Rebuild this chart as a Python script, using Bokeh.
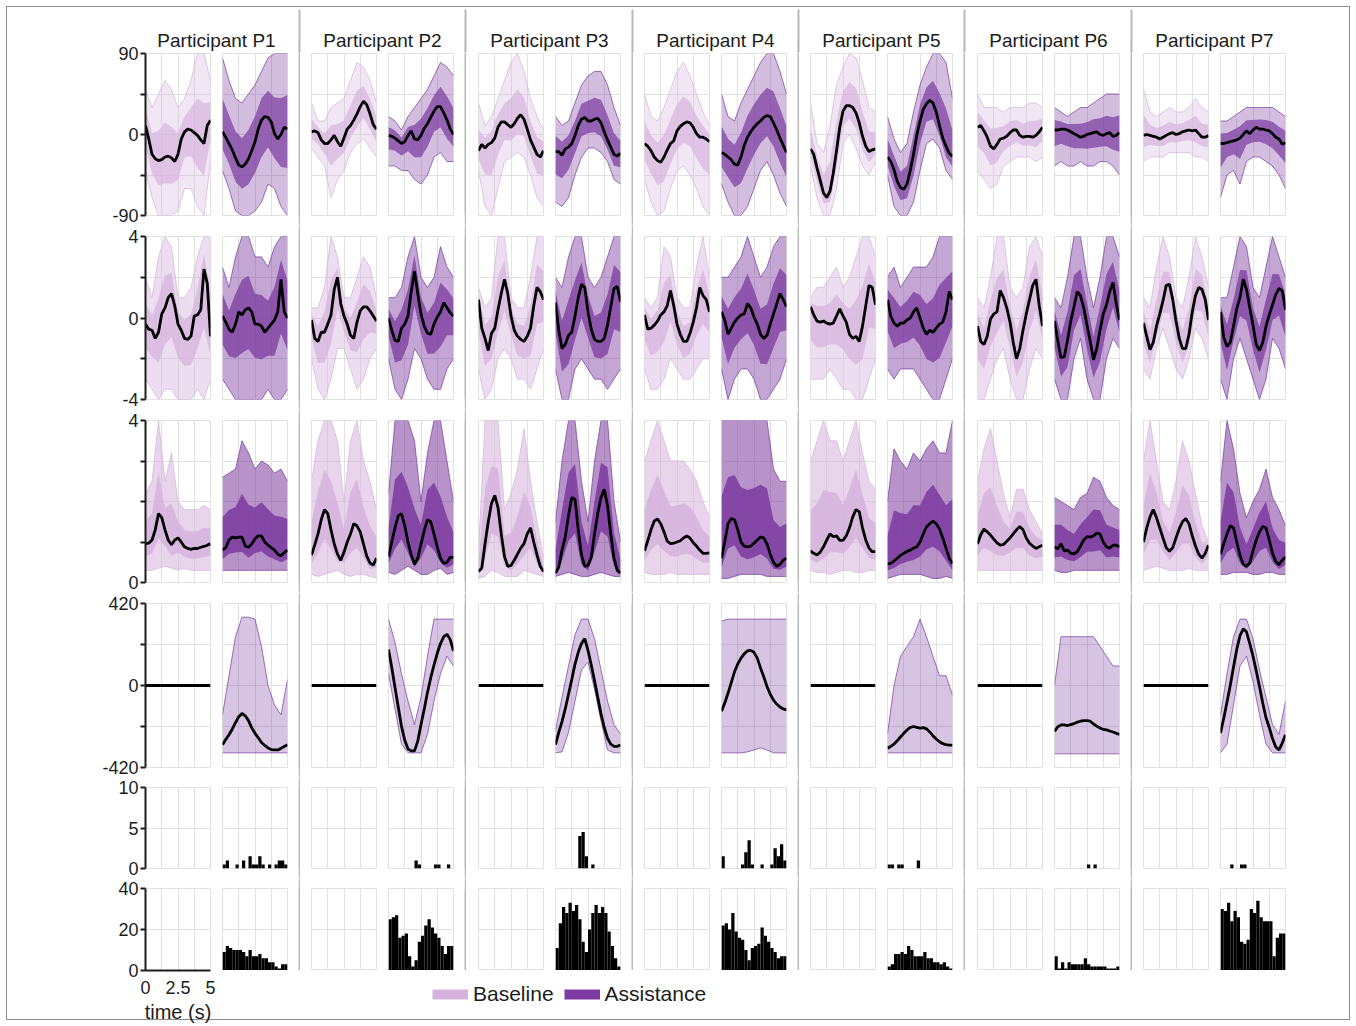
import numpy as np
from math import pi
from bokeh.plotting import figure
from bokeh.models import Range1d, FixedTicker, Grid, Label, Legend, LegendItem
from bokeh.layouts import row, column
from bokeh.embed import file_html
from bokeh.resources import INLINE
from bokeh.core.properties import value

FONT = "Liberation Sans"
TXT = "#1c1c1c"
BASE_C = "#d5b3dd"
ASST_C = "#7b3a9f"
GRID_C = "#e2e2e2"
SEP_C = "#b9b9b9"

participants = ["Participant P1", "Participant P2", "Participant P3", "Participant P4",
                "Participant P5", "Participant P6", "Participant P7"]
conditions = ["Baseline", "Assistance"]

t21 = [0.0, 0.25, 0.5, 0.75, 1.0, 1.25, 1.5, 1.75, 2.0, 2.25, 2.5, 2.75, 3.0, 3.25, 3.5, 3.75, 4.0, 4.25, 4.5, 4.75, 5.0]
t11 = [0.0, 0.5, 1.0, 1.5, 2.0, 2.5, 3.0, 3.5, 4.0, 4.5, 5.0]
bin_left = [0.0, 0.25, 0.5, 0.75, 1.0, 1.25, 1.5, 1.75, 2.0, 2.25, 2.5, 2.75, 3.0, 3.25, 3.5, 3.75, 4.0, 4.25, 4.5, 4.75]
bin_right = [0.25, 0.5, 0.75, 1.0, 1.25, 1.5, 1.75, 2.0, 2.25, 2.5, 2.75, 3.0, 3.25, 3.5, 3.75, 4.0, 4.25, 4.5, 4.75, 5.0]

# ---------------- Error (deg) ----------------
err_base_mean = [
    [10, -5, -22, -27, -29, -28, -25, -24, -26, -30, -22, -5, 3, 6, 5, 2, -1, -6, -10, 10, 16],
    [3, 4, 2, -6, -10, -10, -6, -1, -8, -13, -4, 6, 10, 16, 23, 31, 37, 33, 23, 11, 6],
    [-18, -11, -15, -11, -9, -4, 8, 14, 14, 11, 8, 12, 18, 22, 17, 6, -6, -14, -22, -25, -18],
    [-10, -13, -18, -25, -29, -31, -25, -17, -10, -7, 4, 9, 12, 14, 13, 8, 1, -3, -3, -5, -8],
    [-16, -22, -37, -51, -65, -70, -63, -43, -18, 8, 26, 32, 32, 30, 24, 13, -2, -13, -19, -17, -16],
    [8, 10, 4, -3, -13, -16, -11, -5, -4, -2, 2, 5, 5, -1, -3, -2, -2, -3, -1, 3, 8],
    [-1, 0, -1, -2, -3, -5, -3, -1, 1, 2, 0, 1, 3, 4, 5, 4, 5, 1, -3, -3, -1],
]
err_base_lo = [
    [-40, -70, -90, -90, -90, -85, -60, -60, -80, -90, -30],
    [-15, -25, -35, -70, -50, -40, -20, -10, -5, -15, -25],
    [-40, -80, -90, -60, -30, -25, -20, -25, -45, -70, -80],
    [-50, -75, -90, -85, -60, -40, -35, -45, -60, -80, -90],
    [-35, -70, -90, -90, -60, -10, 0, -15, -35, -45, -30],
    [-40, -50, -60, -55, -35, -30, -25, -25, -25, -30, -25],
    [-30, -25, -25, -25, -20, -20, -20, -20, -25, -25, -30],
]
err_base_hi = [
    [50, 30, 45, 60, 50, 30, 40, 60, 90, 90, 60],
    [35, 15, 15, 30, 35, 40, 60, 80, 75, 60, 35],
    [35, 10, 20, 40, 60, 80, 90, 70, 40, 20, 5],
    [45, 20, 15, 30, 50, 70, 80, 65, 45, 25, 10],
    [35, -10, -20, 10, 55, 75, 90, 85, 60, 30, 25],
    [45, 30, 30, 30, 25, 30, 30, 30, 35, 35, 30],
    [50, 25, 20, 25, 30, 25, 25, 30, 40, 30, 25],
]
err_asst_mean = [
    [3, -3, -10, -17, -26, -34, -36, -33, -27, -18, -8, 6, 16, 20, 19, 14, 1, -5, 0, 8, 6],
    [-1, -2, -4, -7, -10, -8, -1, 4, -5, -6, -1, 7, 12, 19, 26, 31, 31, 24, 16, 6, 0],
    [-19, -19, -23, -16, -14, -10, -1, 10, 17, 19, 15, 15, 17, 18, 13, 3, -6, -14, -22, -24, -21],
    [-20, -22, -25, -28, -33, -34, -25, -12, -3, 3, 8, 12, 15, 19, 21, 20, 13, 5, -4, -12, -20],
    [-25, -30, -39, -52, -59, -61, -55, -40, -22, -1, 15, 28, 34, 38, 35, 25, 10, -4, -13, -21, -24],
    [5, 5, 6, 6, 5, 3, 1, -1, -3, -2, 0, 1, 2, 3, 0, -1, 1, 2, -2, -1, 2],
    [-10, -10, -9, -8, -7, -6, -4, 0, 4, 1, 5, 8, 6, 6, 5, 4, 1, -3, -5, -11, -9],
]
err_asst_lo = [
    [-40, -60, -85, -90, -90, -85, -75, -55, -60, -80, -90],
    [-35, -35, -40, -40, -50, -55, -45, -25, -20, -30, -30],
    [-75, -80, -70, -45, -25, -15, -15, -20, -30, -50, -55],
    [-55, -75, -90, -90, -80, -60, -40, -30, -45, -65, -80],
    [-45, -80, -90, -90, -75, -40, -10, -5, -15, -40, -50],
    [-35, -30, -35, -35, -30, -35, -35, -30, -30, -35, -45],
    [-70, -45, -40, -55, -30, -25, -25, -30, -35, -45, -60],
]
err_asst_hi = [
    [85, 60, 40, 35, 45, 55, 70, 85, 90, 90, 90],
    [20, 15, 5, 20, 30, 40, 50, 65, 80, 75, 65],
    [20, 10, 15, 35, 55, 65, 70, 70, 55, 30, 10],
    [45, 20, 15, 35, 50, 65, 80, 90, 90, 70, 45],
    [20, -5, -20, -10, 25, 55, 75, 90, 90, 80, 40],
    [30, 25, 20, 25, 30, 30, 35, 40, 45, 45, 45],
    [15, 15, 20, 25, 30, 30, 30, 30, 30, 25, 20],
]

# ---------------- Power (W) ----------------
pow_base_mean = [
    [-0.3, -0.55, -0.6, -1.0, -0.7, 0.2, 0.5, 1.0, 1.2, 0.6, -0.3, -0.6, -1.0, -1.05, -0.9, 0.1, 0.15, 0.4, 2.4, 1.7, -0.9],
    [-0.1, -1.0, -1.15, -0.7, -0.7, -0.3, 0.15, 1.4, 2.0, 0.7, 0.1, -0.3, -0.85, -1.0, -0.2, 0.35, 0.55, 0.55, 0.35, 0.1, -0.15],
    [0.9, -0.5, -1.0, -1.6, -0.75, -0.5, 0.4, 1.2, 1.9, 1.2, 0.1, -0.6, -0.9, -1.05, -1.15, -0.9, -0.5, 0.6, 1.5, 1.3, 0.9],
    [0.15, -0.55, -0.5, -0.35, -0.15, 0.15, 0.3, 0.6, 1.35, 0.6, -0.3, -0.8, -1.15, -1.15, -0.75, -0.2, 0.5, 1.5, 1.1, 0.9, 0.3],
    [0.55, 0.15, -0.15, -0.2, -0.15, -0.25, -0.3, -0.25, 0.1, 0.45, 0.1, -0.2, -0.8, -1.0, -0.9, -1.15, -0.4, 0.6, 1.6, 1.5, 0.65],
    [-0.4, -1.15, -1.3, -0.9, -0.05, 0.2, 0.3, 1.35, 1.0, 0.5, -0.2, -1.2, -2.0, -1.5, -0.6, 0.2, 0.9, 1.6, 1.9, 0.6, -0.4],
    [-0.25, -0.9, -1.55, -1.2, -0.4, 0.2, 0.85, 1.6, 1.65, 0.9, -0.15, -1.0, -1.5, -1.5, -0.8, 0.3, 1.1, 1.5, 1.4, 0.9, -0.1],
]
pow_base_lo = [
    [-3, -3.5, -4, -3.5, -3.5, -4, -4, -4, -3.5, -4, -3],
    [-2, -3.5, -4, -3, -1.5, -1.5, -2.5, -3.5, -3, -2, -1.5],
    [-2.5, -4, -3.5, -2, -1.5, -2, -3, -3, -3.5, -2.5, -1.5],
    [-2.5, -3.5, -3.5, -3, -2, -2.5, -3, -3, -2.5, -2, -2],
    [-3, -3, -3, -2.5, -3, -3.5, -3.5, -4, -4, -3, -2],
    [-4, -4, -3, -2, -1.5, -3, -4, -4, -2.5, -1.5, -2],
    [-2.5, -3, -1.5, -0.5, -1.5, -2.5, -3, -2, -0.5, -1, -2],
]
pow_base_hi = [
    [2, 1, 3, 4, 3.5, 1, 1, 1.5, 3, 4, 4],
    [0.5, 0.5, 1.5, 4, 3, 1, 1, 2, 3, 2.5, 1],
    [1.5, 0.5, 1, 4, 4, 1, 0.5, 0.5, 2, 4, 4],
    [1, 0.5, 1, 3.5, 3, 1, 0.5, 0.5, 2.5, 4, 2],
    [1, 1.5, 1.5, 2, 2.5, 1.5, 2, 3, 4, 4, 3],
    [1, 0.5, 2, 4, 4, 1.5, 1, 1.5, 3.5, 4, 3],
    [1, 0.5, 2.5, 4, 3, 1, 0.5, 2, 4, 3, 1.5],
]
pow_asst_mean = [
    [0.1, -0.2, -0.55, -0.7, -0.3, 0.3, 0.15, 0.4, 0.5, 0.3, -0.3, -0.3, -0.4, -0.7, -0.5, -0.3, -0.1, 0.3, 1.9, 0.3, 0],
    [0, -0.6, -1.1, -1.15, -0.5, -0.3, 0.1, 1.3, 2.3, 1.2, 0.2, -0.4, -0.75, -0.8, -0.3, 0.05, 0.3, 0.75, 0.5, 0.25, 0.1],
    [0.75, -0.6, -1.5, -1.3, -0.85, -0.7, 0.1, 1.0, 1.65, 1.5, 0.3, -0.55, -1.05, -1.15, -1.15, -1.0, -0.35, 0.55, 1.45, 1.55, 0.8],
    [0.3, -0.1, -0.8, -0.5, -0.2, 0, 0.15, 0.2, 0.7, 0.5, 0.05, -0.3, -0.8, -1.0, -0.85, -0.3, 0.2, 0.7, 1.2, 0.9, 0.55],
    [0.9, 0.1, -0.25, -0.4, -0.25, -0.25, -0.1, 0, 0.3, 0.5, 0, -0.5, -0.8, -0.6, -0.7, -0.5, -0.3, -0.2, 0.3, 1.3, 0.9],
    [-0.15, -1.1, -1.95, -1.9, -1.1, -0.15, 0.55, 1.3, 1.1, 0.5, -0.35, -1.15, -2.05, -1.5, -0.6, 0.2, 0.65, 1.3, 1.75, 0.7, -0.1],
    [0.3, -0.95, -1.4, -1.2, -0.4, 0.45, 1.0, 1.9, 1.4, 0.5, -0.35, -1.3, -1.6, -1.2, -0.4, 0.15, 0.65, 1.15, 1.45, 1.35, 0.4],
]
pow_asst_lo = [
    [-3, -3.5, -4, -4, -4, -4, -4, -3.5, -4, -4, -3.5],
    [-2, -3.5, -4, -3, -1.5, -2, -3, -3.5, -3.5, -2.5, -2],
    [-2.5, -4, -4, -2.5, -2, -2.5, -3, -3, -3.5, -3, -2.5],
    [-2.5, -4, -3, -2.5, -2.5, -3, -4, -4, -3.5, -3, -2],
    [-2.5, -3, -2.5, -2.5, -2.5, -3, -3.5, -4, -4, -3, -2],
    [-3, -4, -4, -2, -1, -3, -4, -4, -2, -1, -1.5],
    [-3, -4, -2, -1, -2, -3, -4, -3, -1, -1.5, -2.5],
]
pow_asst_hi = [
    [2.5, 1.5, 3, 4, 4, 3, 3, 2.5, 3.5, 4, 4],
    [1, 1, 1.5, 3, 4, 2, 1.5, 2, 3.5, 2.5, 2],
    [2, 1.5, 3, 4, 4, 2, 1.5, 2, 3, 4, 4],
    [2, 2, 2.5, 3, 4, 3, 2, 2.5, 3.5, 4, 4],
    [2, 2.5, 1.5, 2, 2.5, 2.5, 2.5, 3, 4, 4, 4],
    [1, 0.5, 2, 4, 4, 2, 0.5, 2, 4, 4, 3],
    [1, 1, 2.5, 4, 3.5, 1.5, 1, 2.5, 4, 3, 2],
]

# ---------------- Scaled Effort (a.u.) ----------------
eff_base_mean = [
    [0.96, 0.97, 1.05, 1.3, 1.7, 1.6, 1.3, 1.05, 0.93, 1.05, 1.1, 1.0, 0.88, 0.84, 0.82, 0.84, 0.84, 0.87, 0.89, 0.92, 0.96],
    [0.68, 0.93, 1.2, 1.55, 1.8, 1.7, 1.3, 0.95, 0.7, 0.55, 0.75, 1.0, 1.2, 1.45, 1.4, 1.25, 0.95, 0.65, 0.48, 0.43, 0.6],
    [0.27, 0.35, 0.95, 1.5, 1.95, 2.15, 1.85, 1.2, 0.64, 0.4, 0.42, 0.55, 0.7, 0.85, 0.96, 1.2, 1.35, 1.0, 0.68, 0.4, 0.27],
    [0.78, 1.03, 1.3, 1.52, 1.57, 1.45, 1.25, 1.02, 0.96, 0.97, 1.0, 1.03, 1.1, 1.15, 1.1, 0.98, 0.9, 0.8, 0.72, 0.72, 0.73],
    [0.78, 0.72, 0.68, 0.75, 0.88, 1.05, 1.2, 1.13, 1.15, 1.04, 1.04, 1.15, 1.35, 1.62, 1.8, 1.75, 1.35, 1.05, 0.85, 0.76, 0.76],
    [0.95, 1.18, 1.32, 1.25, 1.17, 1.07, 0.98, 0.92, 0.94, 1.02, 1.1, 1.2, 1.3, 1.38, 1.3, 1.1, 0.97, 0.9, 0.84, 0.88, 0.92],
    [1.0, 1.35, 1.62, 1.8, 1.6, 1.35, 1.1, 0.86, 0.77, 0.86, 1.1, 1.33, 1.5, 1.58, 1.45, 1.15, 0.9, 0.7, 0.6, 0.72, 0.92],
]
eff_base_lo = [
    [0.3, 0.3, 0.35, 0.4, 0.35, 0.3, 0.35, 0.3, 0.3, 0.3, 0.3],
    [0.2, 0.15, 0.2, 0.25, 0.3, 0.2, 0.15, 0.2, 0.2, 0.15, 0.1],
    [0.1, 0.15, 0.3, 0.25, 0.15, 0.15, 0.15, 0.3, 0.25, 0.2, 0.15],
    [0.25, 0.2, 0.2, 0.2, 0.25, 0.2, 0.2, 0.2, 0.2, 0.2, 0.2],
    [0.3, 0.25, 0.25, 0.2, 0.25, 0.3, 0.3, 0.25, 0.25, 0.3, 0.3],
    [0.3, 0.3, 0.3, 0.3, 0.3, 0.3, 0.3, 0.3, 0.3, 0.3, 0.3],
    [0.3, 0.35, 0.4, 0.35, 0.3, 0.3, 0.3, 0.35, 0.3, 0.3, 0.3],
]
eff_base_hi = [
    [2.2, 2.5, 4, 2.5, 3.2, 2, 1.8, 1.8, 1.8, 1.9, 1.8],
    [2.5, 3.5, 4, 4, 3.5, 2.0, 3.5, 4, 3, 2.5, 1.8],
    [0.8, 4, 4, 4, 1.8, 2.2, 2.8, 3.8, 2.5, 1.5, 0.6],
    [3, 3.5, 4, 3.5, 3, 3, 3, 2.8, 2.5, 2.0, 1.6],
    [3, 3.5, 4, 3.5, 3.5, 3, 3.5, 4, 3.2, 2.5, 2.3],
    [2.5, 3.3, 3.8, 3.0, 2.2, 1.6, 2.3, 2.3, 1.8, 1.5, 1.2],
    [3, 4, 3, 2, 1.8, 2.5, 3.5, 3, 2.2, 1.4, 1.0],
]
eff_asst_mean = [
    [0.8, 0.86, 1.05, 1.12, 1.1, 1.12, 1.12, 0.9, 0.87, 0.95, 1.08, 1.15, 1.15, 1.0, 0.92, 0.86, 0.8, 0.7, 0.66, 0.74, 0.8],
    [0.64, 1.0, 1.35, 1.65, 1.7, 1.4, 1.0, 0.68, 0.45, 0.6, 0.95, 1.28, 1.55, 1.5, 1.2, 0.88, 0.6, 0.47, 0.5, 0.62, 0.62],
    [0.23, 0.38, 0.8, 1.12, 1.65, 2.1, 2.05, 1.3, 0.68, 0.4, 0.42, 0.62, 1.2, 1.7, 2.1, 2.3, 1.9, 1.2, 0.6, 0.3, 0.23],
    [0.6, 1.0, 1.45, 1.58, 1.55, 1.3, 1.0, 0.9, 0.88, 0.9, 0.97, 1.05, 1.12, 1.1, 0.95, 0.7, 0.5, 0.4, 0.45, 0.55, 0.6],
    [0.46, 0.47, 0.53, 0.6, 0.67, 0.72, 0.77, 0.8, 0.85, 0.88, 1.0, 1.2, 1.37, 1.45, 1.52, 1.45, 1.32, 1.1, 0.85, 0.6, 0.47],
    [0.88, 0.83, 0.96, 0.78, 0.8, 0.72, 0.71, 0.76, 0.9, 1.05, 1.13, 1.12, 1.15, 1.22, 1.2, 1.0, 0.88, 0.85, 0.92, 0.92, 0.88],
    [0.7, 0.96, 1.2, 1.4, 1.35, 1.0, 0.67, 0.45, 0.4, 0.48, 0.78, 1.05, 1.25, 1.38, 1.35, 1.05, 0.72, 0.52, 0.44, 0.55, 0.63],
]
eff_asst_lo = [
    [0.3, 0.3, 0.3, 0.3, 0.3, 0.3, 0.3, 0.3, 0.3, 0.3, 0.3],
    [0.25, 0.2, 0.3, 0.4, 0.3, 0.2, 0.2, 0.3, 0.35, 0.2, 0.25],
    [0.15, 0.2, 0.25, 0.2, 0.15, 0.15, 0.2, 0.25, 0.2, 0.15, 0.15],
    [0.1, 0.1, 0.15, 0.2, 0.2, 0.2, 0.2, 0.15, 0.15, 0.15, 0.15],
    [0.1, 0.15, 0.2, 0.2, 0.2, 0.2, 0.15, 0.1, 0.1, 0.15, 0.1],
    [0.3, 0.25, 0.25, 0.3, 0.3, 0.3, 0.3, 0.3, 0.3, 0.3, 0.3],
    [0.2, 0.2, 0.25, 0.25, 0.25, 0.2, 0.2, 0.25, 0.25, 0.2, 0.2],
]
eff_asst_hi = [
    [2.6, 2.7, 2.8, 3.5, 3.2, 2.8, 3.0, 2.9, 2.7, 2.8, 2.5],
    [2.2, 4, 4, 4, 3.5, 2, 3.2, 4, 4, 3, 2],
    [1.5, 3, 4, 4, 2.5, 1.5, 3, 4, 4, 2, 1],
    [4, 4, 4, 4, 4, 4, 4, 4, 2.8, 2.5, 2.5],
    [2, 3.3, 3.0, 2.8, 3.2, 3.0, 3.3, 3.5, 3.2, 3.2, 4],
    [2.1, 2.0, 1.9, 1.8, 2.1, 2.2, 2.6, 2.5, 2.1, 1.9, 1.8],
    [2.5, 4, 3.3, 2.2, 1.6, 2.0, 2.3, 2.8, 2.1, 1.8, 1.4],
]

# ---------------- Equilibrium (kPa) ----------------
eq_base_mean = [0, 0, 0, 0, 0, 0, 0, 0, 0, 0, 0, 0, 0, 0, 0, 0, 0, 0, 0, 0, 0]
eq_asst_mean = [
    [-303, -277, -252, -224, -190, -160, -143, -155, -180, -217, -245, -268, -292, -307, -320, -328, -330, -330, -322, -312, -303],
    [185, 92, -10, -110, -210, -280, -325, -335, -335, -285, -200, -120, -35, 40, 105, 165, 215, 250, 262, 235, 177],
    [-303, -240, -185, -120, -45, 30, 110, 170, 215, 240, 180, 105, 25, -60, -145, -215, -270, -300, -312, -312, -305],
    [-132, -90, -40, 15, 70, 110, 140, 162, 178, 180, 170, 140, 90, 45, -5, -45, -75, -95, -110, -120, -125],
    [-321, -312, -300, -283, -264, -245, -228, -215, -210, -214, -218, -216, -222, -238, -258, -274, -288, -298, -303, -305, -305],
    [-235, -212, -202, -202, -205, -200, -195, -188, -183, -180, -180, -183, -197, -208, -218, -225, -227, -233, -238, -245, -250],
    [-243, -168, -85, 0, 95, 185, 255, 290, 275, 215, 150, 75, -5, -90, -165, -215, -272, -315, -330, -295, -252],
]
eq_asst_lo = [
    [-345, -345, -345, -345, -345, -345, -345, -345, -345, -345, -345],
    [60, -120, -300, -345, -345, -345, -250, -80, 60, 150, 100],
    [-345, -340, -240, -80, 80, 120, -20, -180, -330, -345, -345],
    [-345, -345, -345, -345, -340, -330, -320, -330, -345, -345, -345],
    [-345, -345, -345, -345, -345, -345, -345, -345, -345, -345, -345],
    [-350, -350, -350, -350, -350, -350, -350, -350, -350, -350, -350],
    [-345, -300, -100, 100, 150, 20, -150, -300, -345, -345, -345],
]
eq_asst_hi = [
    [-150, 50, 250, 350, 350, 340, 200, 0, -100, -150, 30],
    [340, 220, 60, -80, -200, -60, 150, 340, 340, 340, 340],
    [-230, -60, 100, 260, 340, 340, 240, 80, -80, -200, -250],
    [330, 340, 340, 340, 340, 340, 340, 340, 340, 340, 340],
    [-250, 0, 150, 200, 250, 340, 250, 150, 50, 50, -50],
    [0, 250, 250, 250, 250, 250, 250, 200, 150, 100, 100],
    [-150, 60, 250, 340, 340, 240, 80, -60, -200, -250, -80],
]

# ---------------- Reflex histograms (assistance) ----------------
f_reflex = [
    [0.5, 1, 0, 0, 0.5, 0, 1, 0, 1.5, 0.5, 0.5, 1.5, 0.5, 0, 0.5, 0, 0.5, 1, 1, 0.5],
    [0, 0, 0, 0, 0, 0, 0, 0, 1, 0.5, 0, 0, 0, 0, 0.5, 0.5, 0, 0, 0.5, 0],
    [0, 0, 0, 0, 0, 0, 0, 4, 4.5, 1.5, 0, 0.5, 0, 0, 0, 0, 0, 0, 0, 0],
    [1.5, 0, 0, 0, 0, 0, 0.5, 2, 3.5, 0.5, 0, 0, 0.5, 0, 0, 0.5, 2.5, 1.5, 3, 1],
    [0.5, 0.5, 0, 0.5, 0.5, 0, 0, 0, 0, 1, 0, 0, 0, 0, 0, 0, 0, 0, 0, 0],
    [0, 0, 0, 0, 0, 0, 0, 0, 0, 0, 0.5, 0, 0.5, 0, 0, 0, 0, 0, 0, 0],
    [0, 0, 0, 0.5, 0, 0, 0.5, 0.5, 0, 0, 0, 0, 0, 0, 0, 0, 0, 0, 0, 0],
]
m_reflex = [
    [9, 12, 11, 10, 10, 10, 9, 7, 10, 7, 7, 8, 6, 6, 4, 4, 2, 1, 3, 3],
    [25, 26, 27, 16, 17, 18, 7, 2, 5, 14, 17, 22, 25, 21, 18, 16, 12, 8, 12, 12],
    [11, 23, 31, 28, 33, 29, 32, 25, 14, 9, 20, 28, 32, 28, 31, 28, 19, 12, 6, 2],
    [22, 23, 20, 28, 19, 16, 15, 10, 5, 11, 12, 13, 21, 17, 14, 11, 9, 6, 7, 7],
    [2, 3, 8, 8, 9, 8, 12, 10, 7, 7, 7, 9, 6, 6, 4, 4, 3, 4, 2, 1],
    [7, 1, 4, 1, 4, 3, 3, 3, 3, 6, 3, 2, 2, 2, 2, 2, 1, 1, 1, 2],
    [30, 29, 33, 24, 29, 26, 14, 13, 15, 30, 28, 34, 26, 24, 24, 24, 7, 16, 18, 18],
]

x_grid = [0, 1.25, 2.5, 3.75, 5]
time_ticks = [0, 2.5, 5]

# ---------------- layout constants (page pixels) ----------------
BASE_LEFT = [145, 311, 478, 644, 810, 977, 1143]
PANEL_W = 65
PX_PER_S = PANEL_W / 5.0
CORE = 0.45
PAGE_W = 1356
HDR_H = 52        # header height
ROW1_PULL = 12    # first row overlaps the header by this many pixels (transparent border)

ROWS = [
    dict(key="err", label=("Error", "(deg)"), rng=(-90, 90), ticks=[-90, 0, 90], minor=[-45, 45],
         grid=[-90, -45, 0, 45, 90], h=162, top=13, bottom=10, a_out=0.33, a_core=0.7, core=True),
    dict(key="pow", label=("Power", "(W)"), rng=(-4, 4), ticks=[-4, 0, 4], minor=[-2, 2],
         grid=[-4, -2, 0, 2, 4], h=163, top=11, bottom=10, a_out=0.45, a_core=0.75, core=True),
    dict(key="eff", label=("Scaled Effort", "(a.u.)"), rng=(0, 4), ticks=[0, 4], minor=[1, 2, 3],
         grid=[0, 1, 2, 3, 4], h=162, top=11, bottom=10, a_out=0.55, a_core=0.85, core=True),
    dict(key="eq", label=("Equilibrium", "(kPa)"), rng=(-420, 420), ticks=[-420, 0, 420], minor=[-210, 210],
         grid=[-420, -210, 0, 210, 420], h=164, top=11, bottom=10, a_out=0.3, a_core=0.0, core=False),
    dict(key="f", label=("F-Reflex", "(freq.)"), rng=(0, 10), ticks=[0, 5, 10], minor=[],
         grid=[0, 5, 10], h=81, top=10, bottom=10),
    dict(key="m", label=("M-Reflex", "(freq.)"), rng=(0, 40), ticks=[0, 20, 40], minor=[],
         grid=[0, 20, 40], h=82, top=10, bottom=0),
]

LINES = {
    "err": (err_base_mean, err_base_lo, err_base_hi, err_asst_mean, err_asst_lo, err_asst_hi),
    "pow": (pow_base_mean, pow_base_lo, pow_base_hi, pow_asst_mean, pow_asst_lo, pow_asst_hi),
    "eff": (eff_base_mean, eff_base_lo, eff_base_hi, eff_asst_mean, eff_asst_lo, eff_asst_hi),
}


def draw_trials(p, mean, lo, hi, color, r):
    m = np.array(mean, dtype=float)[::2]
    lo = np.array(lo, dtype=float)
    hi = np.array(hi, dtype=float)
    p.varea(x=t11, y1=lo, y2=hi, fill_color=color, fill_alpha=r["a_out"])
    if r["core"]:
        p.varea(x=t11, y1=m - CORE * (m - lo), y2=m + CORE * (hi - m),
                fill_color=color, fill_alpha=r["a_core"])
    p.line(t11, lo, line_color=color, line_width=0.8, line_alpha=0.9)
    p.line(t11, hi, line_color=color, line_width=0.8, line_alpha=0.9)


def panel(ri, k, cond):
    r = ROWS[ri]
    axis_panel = (k == 0 and cond == 0)
    if cond == 0:
        left = BASE_LEFT[0] if k == 0 else BASE_LEFT[k] - BASE_LEFT[k - 1] - 155
        right = 6
    else:
        left = 6
        right = 11 if k < 6 else PAGE_W - (BASE_LEFT[6] + 142)
    bottom = r["bottom"]
    xloc = None
    if axis_panel and ri == 5:
        bottom = 56
        xloc = "below"
    p = figure(frame_width=PANEL_W, frame_height=r["h"],
               x_range=Range1d(0, 5), y_range=Range1d(*r["rng"]),
               min_border_left=left, min_border_right=right,
               min_border_top=r["top"], min_border_bottom=bottom,
               x_axis_location=xloc, y_axis_location=("left" if axis_panel else None),
               toolbar_location=None, output_backend="svg",
               outline_line_color=GRID_C, outline_line_width=1,
               background_fill_color="white", border_fill_color=None)
    for g in p.grid:
        g.grid_line_color = None
    p.add_layout(Grid(dimension=0, ticker=FixedTicker(ticks=x_grid), grid_line_color=GRID_C, grid_line_width=1))
    p.add_layout(Grid(dimension=1, ticker=FixedTicker(ticks=r["grid"]), grid_line_color=GRID_C, grid_line_width=1))

    if axis_panel:
        ax = p.yaxis[0]
        ax.ticker = FixedTicker(ticks=r["ticks"], minor_ticks=r["minor"])
        ax.major_label_overrides = {t: str(t) for t in r["ticks"]}
        ax.axis_line_color = TXT
        ax.axis_line_width = 2
        ax.major_tick_line_color = TXT
        ax.major_tick_line_width = 2
        ax.major_tick_in = 0
        ax.major_tick_out = 5
        ax.minor_tick_line_color = TXT
        ax.minor_tick_line_width = 2
        ax.minor_tick_in = 0
        ax.minor_tick_out = 5
        ax.major_label_text_font = FONT
        ax.major_label_text_font_size = "18px"
        ax.major_label_text_color = TXT
        ax.major_label_standoff = 2
        ymid = (r["rng"][0] + r["rng"][1]) / 2.0
        for txt, dx in zip(r["label"], (-60, -35)):
            p.add_layout(Label(x=dx / PX_PER_S, y=ymid, text=txt, angle=pi / 2,
                               text_align="center", text_baseline="middle",
                               text_font=FONT, text_font_size="22px", text_color=TXT))
        if ri == 5:
            xa = p.xaxis[0]
            xa.ticker = FixedTicker(ticks=time_ticks)
            xa.axis_line_color = TXT
            xa.axis_line_width = 2
            xa.major_tick_line_color = None
            xa.major_tick_in = 0
            xa.major_tick_out = 4
            xa.minor_tick_line_color = None
            xa.major_label_text_font = FONT
            xa.major_label_text_font_size = "18px"
            xa.major_label_text_color = TXT
            xa.major_label_standoff = 6
            xa.axis_label = "time (s)"
            xa.axis_label_text_font = FONT
            xa.axis_label_text_font_size = "20px"
            xa.axis_label_text_font_style = "normal"
            xa.axis_label_text_color = TXT
            xa.axis_label_standoff = 4

    key = r["key"]
    if key in LINES:
        bm, blo, bhi, am, alo, ahi = LINES[key]
        if cond == 0:
            draw_trials(p, bm[k], blo[k], bhi[k], BASE_C, r)
            p.line(t21, bm[k], line_color="black", line_width=2.8)
        else:
            draw_trials(p, am[k], alo[k], ahi[k], ASST_C, r)
            p.line(t21, am[k], line_color="black", line_width=2.8)
    elif key == "eq":
        if cond == 0:
            p.line(t21, eq_base_mean, line_color="black", line_width=2.8)
        else:
            draw_trials(p, eq_asst_mean[k], eq_asst_lo[k], eq_asst_hi[k], ASST_C, r)
            p.line(t21, eq_asst_mean[k], line_color="black", line_width=2.8)
    else:
        if cond == 1:
            vals = f_reflex[k] if key == "f" else m_reflex[k]
            p.quad(left=bin_left, right=bin_right, bottom=0, top=vals,
                   fill_color="black", line_color=None)
    return p


def sep_fig(h):
    s = figure(width=2, height=h, min_border=0, x_axis_location=None, y_axis_location=None,
               toolbar_location=None, output_backend="svg", outline_line_color=None,
               background_fill_color=SEP_C, border_fill_color=SEP_C,
               x_range=Range1d(0, 1), y_range=Range1d(0, 1))
    s.grid.visible = False
    return s


# ---------------- header ----------------
hdr = figure(width=PAGE_W, height=HDR_H, min_border=0, x_axis_location=None, y_axis_location=None,
             toolbar_location=None, output_backend="svg", outline_line_color=None,
             background_fill_color=None, border_fill_color=None,
             x_range=Range1d(0, PAGE_W), y_range=Range1d(HDR_H, 0))
hdr.grid.visible = False
hdr.text(x=[b + 71 for b in BASE_LEFT], y=[40] * 7, text=participants,
         text_align="center", text_baseline="middle",
         text_font=value(FONT), text_font_size="19px", text_color=TXT)
sep_x = [b + 154 for b in BASE_LEFT[:6]]
hdr.segment(x0=sep_x, y0=[9] * 6, x1=sep_x, y1=[HDR_H] * 6, line_color=SEP_C, line_width=2)

# ---------------- rows ----------------
layout_rows = [hdr]
for ri in range(5):
    r = ROWS[ri]
    H = r["top"] + r["h"] + r["bottom"]
    kids = []
    for k in range(7):
        kids.append(panel(ri, k, 0))
        kids.append(panel(ri, k, 1))
        if k < 6:
            kids.append(sep_fig(H))
    if ri == 0:
        layout_rows.append(row(kids, spacing=0, margin=(-ROW1_PULL, 0, 0, 0)))
    else:
        layout_rows.append(row(kids, spacing=0))

# last row + legend
r6 = ROWS[5]
H6 = r6["top"] + r6["h"] + r6["bottom"]
p1m = panel(5, 0, 0)
kids6 = [panel(5, 0, 1), sep_fig(H6)]
for k in range(1, 7):
    kids6.append(panel(5, k, 0))
    kids6.append(panel(5, k, 1))
    if k < 6:
        kids6.append(sep_fig(H6))

LEG_W = PAGE_W - 216
leg = figure(width=LEG_W, height=56, min_border=0, x_axis_location=None, y_axis_location=None,
             toolbar_location=None, output_backend="svg", outline_line_color=None,
             background_fill_color=None, border_fill_color=None,
             x_range=Range1d(0, 1), y_range=Range1d(0, 1))
leg.grid.visible = False
# swatch renderers: kept outside the visible range, only used to draw legend glyphs
swatch_x = [0, 1]
swatch_y = [5, 5]
rb = leg.line(x=swatch_x, y=swatch_y, line_color=BASE_C, line_width=10)
ra = leg.line(x=swatch_x, y=swatch_y, line_color=ASST_C, line_width=10)
legend = Legend(items=[LegendItem(label=conditions[0], renderers=[rb]),
                       LegendItem(label=conditions[1], renderers=[ra])],
                location=(216, 20), orientation="horizontal",
                glyph_width=36, glyph_height=20, label_height=20, label_standoff=5,
                spacing=10, padding=0, margin=0, border_line_color=None,
                background_fill_alpha=0, label_text_font=FONT,
                label_text_font_size="21px", label_text_color=TXT)
leg.add_layout(legend)

layout_rows.append(row([p1m, column([row(kids6, spacing=0), leg])], spacing=0))

root = column(layout_rows, spacing=0,
              styles={"outline": "1px solid #8c8c8c", "outline-offset": "-7px"})

open("out.html", "w").write(file_html(root, INLINE, "Participants"))
